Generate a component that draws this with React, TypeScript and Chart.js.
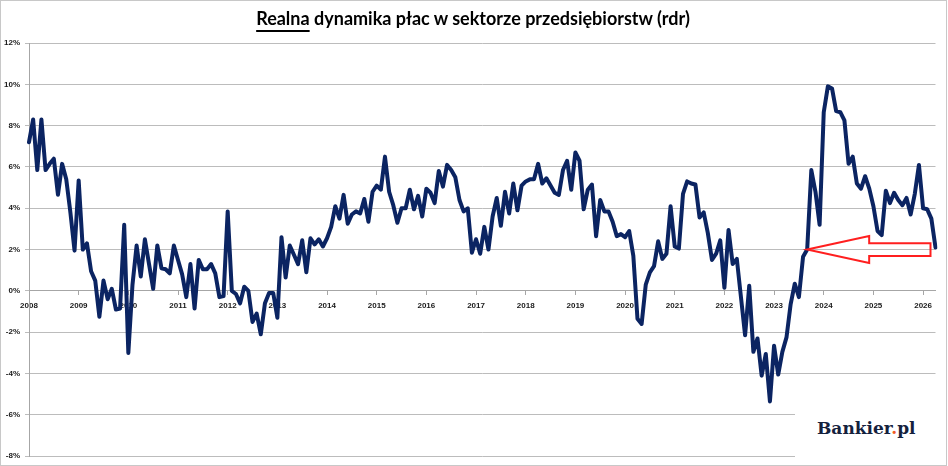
import { useEffect, useRef } from 'react';
import { Chart, registerables } from 'chart.js';

Chart.register(...registerables);

// monthly real wage growth y/y (%), enterprise sector
const startYear = 2008;
const v2008 = [7.2, 8.3, 5.85, 8.3, 5.85, 6.15, 6.4, 4.65, 6.15, 5.4, 3.8, 1.95];
const v2009 = [5.35, 2.0, 2.3, 0.95, 0.5, -1.25, 0.5, -0.4, 0.1, -0.9, -0.85, 3.2];
const v2010 = [-3.0, 0.3, 2.2, 0.7, 2.5, 1.3, 0.1, 2.2, 1.1, 1.05, 0.85, 2.2];
const v2011 = [1.5, 0.8, -0.3, 1.3, -0.85, 1.5, 1.05, 1.05, 1.3, 0.85, -0.3, -0.25];
const v2012 = [3.85, 0.0, -0.15, -0.6, 0.2, 0.0, -1.5, -1.1, -2.1, -0.6, -0.1, -0.1];
const v2013 = [-1.3, 2.6, 0.65, 2.2, 1.75, 1.3, 2.45, 0.9, 2.55, 2.25, 2.5, 2.15];
const v2014 = [2.55, 3.1, 4.1, 3.5, 4.65, 3.25, 3.7, 3.85, 3.75, 4.45, 3.35, 4.8];
const v2015 = [5.1, 4.9, 6.5, 4.8, 4.15, 3.3, 4.0, 4.0, 4.9, 3.95, 4.6, 3.6];
const v2016 = [4.95, 4.75, 4.25, 5.8, 5.05, 6.1, 5.85, 5.5, 4.4, 3.85, 4.0, 1.85];
const v2017 = [2.5, 1.8, 3.1, 2.0, 3.6, 4.5, 3.15, 4.8, 3.75, 5.2, 3.9, 5.1];
const v2018 = [5.3, 5.4, 5.4, 6.15, 5.2, 5.45, 5.1, 4.75, 4.65, 5.85, 6.3, 4.9];
const v2019 = [6.7, 6.3, 3.95, 4.9, 5.15, 2.65, 4.4, 3.85, 3.85, 3.35, 2.65, 2.75];
const v2020 = [2.6, 2.9, 1.7, -1.35, -1.6, 0.3, 0.9, 1.2, 2.4, 1.55, 1.8, 4.1];
const v2021 = [2.15, 2.05, 4.7, 5.3, 5.2, 5.15, 3.55, 3.8, 2.8, 1.5, 1.8, 2.45];
const v2022 = [0.15, 2.95, 1.3, 1.55, -0.3, -2.15, 0.25, -2.95, -2.3, -4.1, -3.05, -5.35];
const v2023 = [-2.65, -4.05, -2.95, -2.25, -0.65, 0.35, -0.3, 1.65, 2.0, 5.85, 4.8, 3.2];
const v2024 = [8.65, 9.9, 9.8, 8.7, 8.65, 8.25, 6.15, 6.5, 5.2, 4.95, 5.55, 4.95];
const v2025 = [4.1, 2.9, 2.7, 4.85, 4.25, 4.75, 4.4, 4.15, 4.5, 3.7, 4.7, 6.1];
const v2026 = [4.0, 3.95, 3.5, 2.1];

const series = [
    ...v2008, ...v2009, ...v2010, ...v2011, ...v2012, ...v2013, ...v2014,
    ...v2015, ...v2016, ...v2017, ...v2018, ...v2019, ...v2020, ...v2021,
    ...v2022, ...v2023, ...v2024, ...v2025, ...v2026,
];

const categories = series.map((_, i) =>
    `${startYear + Math.floor(i / 12)}-${String((i % 12) + 1).padStart(2, '0')}`
);

const yMin = -8;
const yMax = 12;
const yStep = 2;

// red arrow pointing at the Sep 2023 reading
const arrowTarget = '2023-09';
const arrowLevel = 2;

const tickFont = { family: "'Liberation Sans', Arial, sans-serif", size: 8, weight: 'bold' as const };

const arrowPlugin = {
    id: 'redArrow',
    afterDatasetsDraw(chart: Chart) {
        const { ctx, chartArea } = chart;
        const x = chart.scales.x;
        const y = chart.scales.y;
        const tipX = x.getPixelForValue(categories.indexOf(arrowTarget));
        const tipY = y.getPixelForValue(arrowLevel);
        const headX = tipX + 62;
        const tailX = chartArea.right - 5;
        const headHalf = 13.5;
        const shaftHalf = 6.3;
        ctx.save();
        ctx.beginPath();
        ctx.moveTo(tipX, tipY);
        ctx.lineTo(headX, tipY - headHalf);
        ctx.lineTo(headX, tipY - shaftHalf);
        ctx.lineTo(tailX, tipY - shaftHalf);
        ctx.lineTo(tailX, tipY + shaftHalf);
        ctx.lineTo(headX, tipY + shaftHalf);
        ctx.lineTo(headX, tipY + headHalf);
        ctx.closePath();
        ctx.strokeStyle = '#ff1f1f';
        ctx.lineWidth = 2;
        ctx.stroke();
        ctx.restore();
    },
};

const App = () => {
    const canvasRef = useRef<HTMLCanvasElement | null>(null);
    const chartRef = useRef<Chart | null>(null);

    useEffect(() => {
        if (!canvasRef.current) return;
        if (chartRef.current) chartRef.current.destroy();

        chartRef.current = new Chart(canvasRef.current, {
            type: 'line',
            data: {
                labels: categories,
                datasets: [
                    {
                        data: series,
                        borderColor: '#0b2462',
                        borderWidth: 4,
                        pointRadius: 0,
                        tension: 0,
                        borderJoinStyle: 'round',
                        borderCapStyle: 'round',
                        fill: false,
                    },
                ],
            },
            options: {
                animation: false,
                responsive: true,
                maintainAspectRatio: false,
                layout: { padding: { top: 43, right: 12.5, bottom: 6.5, left: 0 } },
                plugins: {
                    legend: { display: false },
                    tooltip: { enabled: false },
                },
                scales: {
                    x: {
                        type: 'category',
                        position: { y: 0 },
                        offset: false,
                        grid: {
                            drawOnChartArea: false,
                            drawTicks: true,
                            tickLength: 4,
                            color: (c: any) => (c.index % 12 === 0 ? '#a6a6a6' : 'rgba(0,0,0,0)'),
                        },
                        border: { display: true, color: '#a6a6a6' },
                        ticks: {
                            autoSkip: false,
                            maxRotation: 0,
                            minRotation: 0,
                            padding: 6,
                            font: tickFont,
                            color: '#1a1a1a',
                            callback: (_v: any, i: number) => (i % 12 === 0 ? categories[i].slice(0, 4) : ''),
                        },
                    },
                    y: {
                        min: yMin,
                        max: yMax,
                        ticks: {
                            stepSize: yStep,
                            padding: 5,
                            font: tickFont,
                            color: '#1a1a1a',
                            callback: (v: any) => `${v}%`,
                        },
                        grid: { color: '#bcbcbc', lineWidth: 1, tickLength: 4 },
                        border: { display: true, color: '#a6a6a6' },
                        afterFit: (axis: any) => {
                            axis.width = 29;
                        },
                    },
                },
            },
            plugins: [arrowPlugin],
        } as any);

        return () => {
            if (chartRef.current) {
                chartRef.current.destroy();
                chartRef.current = null;
            }
        };
    }, []);

    return (
        <div style={{ position: 'absolute', left: 0, top: 0, width: 948, height: 466, background: '#fff' }}>
            <div style={{ position: 'absolute', left: 0, top: 0, width: 948, height: 466 }}>
                <canvas ref={canvasRef}></canvas>
            </div>
            <div
                style={{
                    position: 'absolute',
                    left: 0,
                    top: 6,
                    width: 946,
                    textAlign: 'center',
                    fontFamily: 'Lato, sans-serif',
                    fontWeight: 'bold',
                    fontSize: 18,
                    lineHeight: '24px',
                    color: '#000',
                }}
            >
                <span style={{ textDecoration: 'underline', textUnderlineOffset: '5px', textDecorationThickness: '1.5px' }}>
                    Realna
                </span>{' '}
                dynamika płac w sektorze przedsiębiorstw (rdr)
            </div>
            <div
                style={{
                    position: 'absolute',
                    left: 795,
                    top: 396,
                    width: 151,
                    height: 68,
                    background: '#fff',
                }}
            >
                <div
                    style={{
                        position: 'absolute',
                        left: 22,
                        top: 22,
                        fontFamily: "'DejaVu Serif', serif",
                        fontWeight: 'bold',
                        fontSize: 17,
                        lineHeight: '20px',
                        color: '#14213d',
                        whiteSpace: 'nowrap',
                    }}
                >
                    Bankier<span style={{ color: '#f05a22' }}>.</span>pl
                </div>
            </div>
            <div
                style={{
                    position: 'absolute',
                    left: 0,
                    top: 0,
                    width: 947,
                    height: 466,
                    boxSizing: 'border-box',
                    border: '1px solid #c8c8c8',
                    pointerEvents: 'none',
                }}
            ></div>
        </div>
    );
};

export default App;
